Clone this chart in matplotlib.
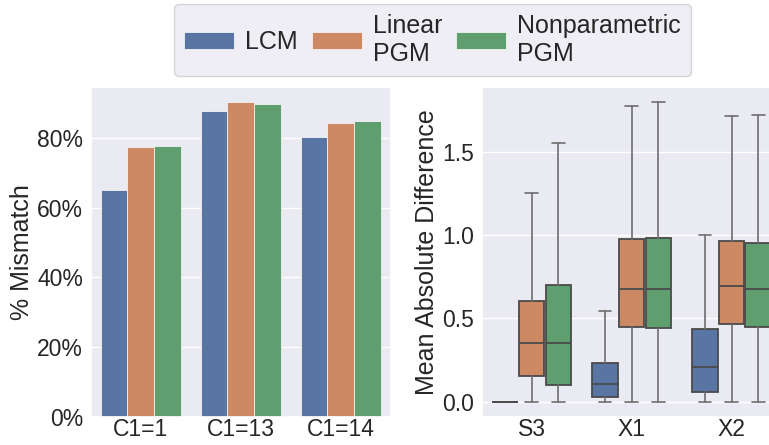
import numpy as np
import matplotlib
matplotlib.use("Agg")
import matplotlib.pyplot as plt
import seaborn as sns
from matplotlib.ticker import PercentFormatter

sns.set_theme(style="darkgrid")
plt.rcParams['font.family'] = ['Liberation Sans', 'DejaVu Sans']

# data
models = ["LCM", "Linear\nPGM", "Nonparametric\nPGM"]
colors = ["#5875a4", "#cc8963", "#5f9e6e"]

bar_cats = ["C1=1", "C1=13", "C1=14"]
mismatch_lcm = [0.651, 0.877, 0.803]
mismatch_lin = [0.773, 0.902, 0.844]
mismatch_np = [0.778, 0.898, 0.849]

box_cats = ["S3", "X1", "X2"]
# per model: [S3, X1, X2]
lcm_lo = [0.0, 0.0, 0.0]
lcm_q1 = [0.0, 0.028, 0.056]
lcm_med = [0.0, 0.106, 0.209]
lcm_q3 = [0.0, 0.235, 0.434]
lcm_hi = [0.0, 0.546, 1.002]

lin_lo = [0.0, 0.0, 0.0]
lin_q1 = [0.153, 0.446, 0.464]
lin_med = [0.351, 0.673, 0.691]
lin_q3 = [0.602, 0.974, 0.964]
lin_hi = [1.249, 1.773, 1.715]

np_lo = [0.0, 0.0, 0.0]
np_q1 = [0.102, 0.440, 0.446]
np_med = [0.351, 0.673, 0.673]
np_q3 = [0.697, 0.984, 0.954]
np_hi = [1.552, 1.799, 1.721]

fig = plt.figure(figsize=(7.69, 4.45), dpi=100)
ax1 = fig.add_axes([0.118, 0.0636, 0.390, 0.7416])
ax2 = fig.add_axes([0.6264, 0.0636, 0.390, 0.7416])

w = 0.8 / 3
x = np.arange(len(bar_cats))
bar_series = [mismatch_lcm, mismatch_lin, mismatch_np]
handles = []
for j, vals in enumerate(bar_series):
    h = ax1.bar(x + (j - 1) * w, vals, width=w, color=colors[j],
                edgecolor="#f2f2f2", linewidth=0.6, label=models[j])
    handles.append(h)
ax1.set_xticks(x)
ax1.set_xticklabels(bar_cats)
ax1.set_xlim(-0.5, 2.5)
ax1.yaxis.set_major_formatter(PercentFormatter(1.0, decimals=0))
ax1.set_ylabel("% Mismatch", fontsize=18, labelpad=2)
ax1.grid(axis="x", visible=False)

# boxplots from summary stats
groups = [(lcm_lo, lcm_q1, lcm_med, lcm_q3, lcm_hi),
          (lin_lo, lin_q1, lin_med, lin_q3, lin_hi),
          (np_lo, np_q1, np_med, np_q3, np_hi)]
line_c = "#4a4a4a"
whisk_c = "#6e6e6e"
for j, (lo, q1, med, q3, hi) in enumerate(groups):
    stats = []
    for i in range(len(box_cats)):
        stats.append(dict(whislo=lo[i], q1=q1[i], med=med[i], q3=q3[i],
                          whishi=hi[i], fliers=[]))
    ax2.bxp(stats, positions=x + (j - 1) * w, widths=w * 0.96,
            patch_artist=True, showfliers=False, manage_ticks=False,
            boxprops=dict(facecolor=colors[j], edgecolor=line_c, linewidth=1.3),
            medianprops=dict(color=line_c, linewidth=1.3),
            whiskerprops=dict(color=whisk_c, linewidth=1.2),
            capprops=dict(color=whisk_c, linewidth=1.2))
ax2.set_xticks(x)
ax2.set_xticklabels(box_cats)
ax2.set_xlim(-0.5, 2.5)
ax2.set_ylim(-0.09, 1.889)
ax2.set_yticks([0.0, 0.5, 1.0, 1.5])
ax2.set_ylabel("Mean Absolute Difference", fontsize=18, labelpad=2)
ax2.grid(axis="x", visible=False)

for ax in (ax1, ax2):
    ax.tick_params(labelsize=16.5, colors="#262626", length=0)
    ax.tick_params(axis="x", pad=1.2)
    ax.tick_params(axis="y", pad=5.5)

fig.legend(handles, models, loc="upper center", ncol=3, fontsize=18,
           bbox_to_anchor=(0.5625, 0.991), borderaxespad=0,
           handlelength=2.0, handletextpad=0.45, columnspacing=0.55,
           borderpad=0.4)

plt.savefig("out.png", dpi=100)
